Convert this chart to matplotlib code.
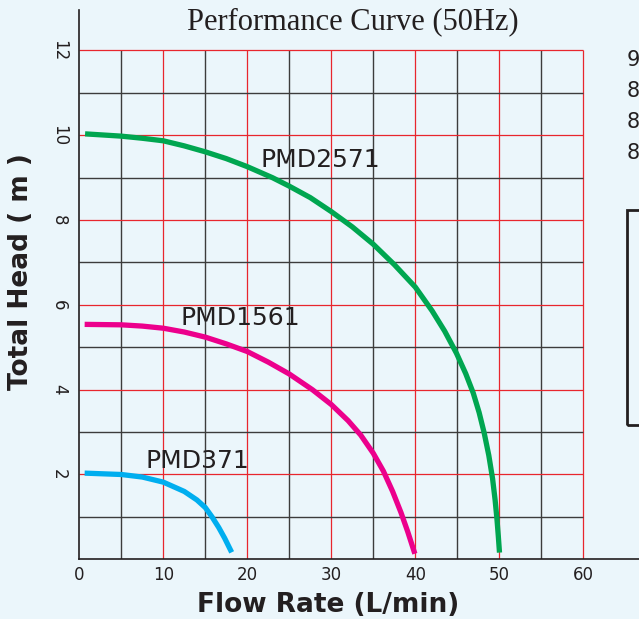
#!/usr/bin/env python3
"""Pump performance curves (50Hz) for the PMD series."""

import matplotlib.pyplot as plt
from matplotlib.patches import Rectangle

BG = "#ebf6fb"

# flow rate (L/min) vs total head (m)
PMD2571_FLOW = [1.0, 5, 7.5, 10, 12.5, 15, 17.5, 20, 23, 25, 27.5, 30, 32.5, 35,
                37.5, 40, 42, 43.5, 44.9, 46.0, 46.9, 47.6, 48.2, 48.75, 49.2,
                49.5, 49.72, 49.88, 50.0]
PMD2571_HEAD = [10.03, 9.98, 9.93, 9.87, 9.75, 9.61, 9.45, 9.26, 9.0, 8.8, 8.53,
                8.2, 7.84, 7.43, 6.95, 6.42, 5.86, 5.38, 4.86, 4.38, 3.92, 3.46,
                2.98, 2.45, 1.9, 1.4, 0.95, 0.55, 0.22]

PMD1561_FLOW = [0.95, 5, 7.5, 10, 12.5, 15, 17.5, 20, 22.5, 25, 27.75, 30, 32,
                33.5, 35, 36.2, 37.3, 38.3, 39.1, 39.85]
PMD1561_HEAD = [5.54, 5.53, 5.5, 5.45, 5.36, 5.24, 5.08, 4.9, 4.65, 4.37, 4.0,
                3.65, 3.27, 2.93, 2.5, 2.08, 1.6, 1.1, 0.65, 0.19]

PMD371_FLOW = [0.95, 5, 7.5, 10, 12.5, 14, 15, 15.8, 16.6, 17.3, 18.0]
PMD371_HEAD = [2.03, 2.0, 1.94, 1.82, 1.6, 1.4, 1.22, 1.0, 0.75, 0.5, 0.22]

X_TICKS = [0, 10, 20, 30, 40, 50, 60]
Y_TICKS = [2, 4, 6, 8, 10, 12]
SIDE_DIGITS = ["9", "8", "8", "8"]


def main() -> None:
    fig = plt.figure(figsize=(6.39, 6.19), dpi=100, facecolor=BG)
    ax = fig.add_axes([79.3 / 639, 59.7 / 619, (639 - 79.3) / 639, 549.3 / 619])
    ax.set_facecolor(BG)
    ax.set_xlim(0, 66.63)
    ax.set_ylim(0, 12.955)

    # grid: red on the major values, dark on the halves
    for x in range(5, 61, 5):
        red = x % 10 == 0
        ax.vlines(x, 0, 12, color="#e8262d" if red else "#3c3c3c",
                  linewidth=0.9 if red else 1.0, zorder=1)
    for y in range(1, 13):
        red = y % 2 == 0
        ax.hlines(y, 0, 60, color="#e8262d" if red else "#3c3c3c",
                  linewidth=0.9 if red else 1.0, zorder=1)

    line_kw = dict(linewidth=3.8, zorder=3, solid_joinstyle="round")
    ax.plot(PMD2571_FLOW, PMD2571_HEAD, color="#00a650", **line_kw)
    ax.plot(PMD1561_FLOW, PMD1561_HEAD, color="#ec008c", **line_kw)
    ax.plot(PMD371_FLOW, PMD371_HEAD, color="#00aeef", **line_kw)

    label_kw = dict(fontsize=18, color="#231f20", va="center", ha="left", zorder=4)
    ax.text(21.6, 9.42, "PMD2571", **label_kw)
    ax.text(12.0, 5.69, "PMD1561", **label_kw)
    ax.text(7.9, 2.32, "PMD371", **label_kw)

    for side in ("top", "right"):
        ax.spines[side].set_visible(False)
    for side in ("left", "bottom"):
        ax.spines[side].set_color("#231f20")
        ax.spines[side].set_linewidth(1.2)

    ax.set_xticks(X_TICKS)
    ax.set_yticks(Y_TICKS)
    ax.tick_params(length=0, labelsize=12, labelcolor="#231f20")
    ax.tick_params(axis="x", pad=5)
    ax.tick_params(axis="y", pad=8)
    for lab in ax.get_yticklabels():
        lab.set_rotation(-90)
        lab.set_va("center")

    fig.text(353 / 639, 1 - 22 / 619, "Performance Curve (50Hz)",
             family="Liberation Serif", fontsize=22, color="#231f20",
             ha="center", va="center")
    fig.text(328 / 639, 1 - 605 / 619, "Flow Rate (L/min)", fontsize=19,
             fontweight="bold", color="#231f20", ha="center", va="center")
    fig.text(21 / 639, 1 - 272 / 619, "Total Head ( m )", fontsize=19,
             fontweight="bold", color="#231f20", ha="center", va="center",
             rotation=90)

    # pieces of the neighbouring panel, cut off by the right edge
    for i, digit in enumerate(SIDE_DIGITS):
        fig.text(627 / 639, 1 - (60 + 31 * i) / 619, digit, fontsize=15,
                 color="#231f20", ha="left", va="center")
    fig.patches.append(Rectangle((627 / 639, 1 - 425 / 619), 0.2, 215 / 619,
                                 transform=fig.transFigure, fill=False,
                                 edgecolor="#231f20", linewidth=2))

    fig.savefig("out.png", dpi=100, facecolor=BG)


if __name__ == "__main__":
    main()
